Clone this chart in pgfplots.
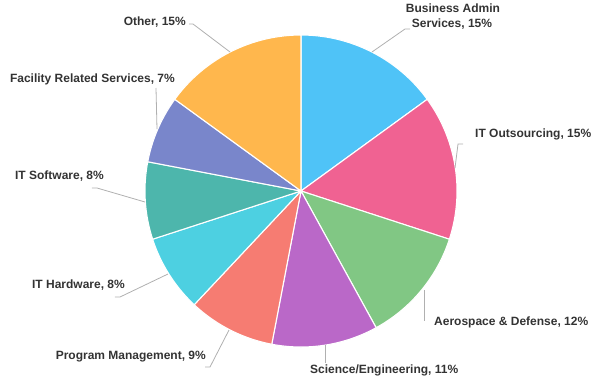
\documentclass[border=0pt]{standalone}
\usepackage{pgfplots}
\pgfplotsset{compat=1.18}
\usepgfplotslibrary{polar}
\usepackage{fontspec}
\setmainfont{Liberation Sans}
\definecolor{cBlue}{HTML}{4FC3F7}
\definecolor{cPink}{HTML}{F06292}
\definecolor{cGreen}{HTML}{81C784}
\definecolor{cPurple}{HTML}{BA68C8}
\definecolor{cSalmon}{HTML}{F67C72}
\definecolor{cCyan}{HTML}{4DD0E1}
\definecolor{cTeal}{HTML}{4DB6AC}
\definecolor{cIndigo}{HTML}{7986CB}
\definecolor{cOrange}{HTML}{FFB74D}
\definecolor{txt}{HTML}{333333}
\definecolor{lead}{HTML}{B0B0B0}
\begin{document}
\begin{tikzpicture}
\begin{polaraxis}[
  hide axis, scale only axis, width=312bp, height=312bp,
  ymin=0, ymax=1, clip=false,
  every axis plot/.append style={draw=white, line width=1.1bp, samples=90, line join=round},
]
% shares (%): 15,15,12,11,9,8,8,7,15 -> clockwise from 12 o'clock, 3.6 deg per %
\addplot[fill=cBlue,   domain=36:90]        {1} -- (axis cs:0,0) -- cycle; % Business Admin Services 15
\addplot[fill=cPink,   domain=-18:36]       {1} -- (axis cs:0,0) -- cycle; % IT Outsourcing 15
\addplot[fill=cGreen,  domain=-61.2:-18]    {1} -- (axis cs:0,0) -- cycle; % Aerospace & Defense 12
\addplot[fill=cPurple, domain=-100.8:-61.2] {1} -- (axis cs:0,0) -- cycle; % Science/Engineering 11
\addplot[fill=cSalmon, domain=-133.2:-100.8]{1} -- (axis cs:0,0) -- cycle; % Program Management 9
\addplot[fill=cCyan,   domain=-162:-133.2]  {1} -- (axis cs:0,0) -- cycle; % IT Hardware 8
\addplot[fill=cTeal,   domain=-190.8:-162]  {1} -- (axis cs:0,0) -- cycle; % IT Software 8
\addplot[fill=cIndigo, domain=-216:-190.8]  {1} -- (axis cs:0,0) -- cycle; % Facility Related Services 7
\addplot[fill=cOrange, domain=-270:-216]    {1} -- (axis cs:0,0) -- cycle; % Other 15
\coordinate (C) at (axis cs:0,0);
\end{polaraxis}
\begin{scope}[shift={(C)}, x=1bp, y=1bp]
\path (-301,-190) rectangle (299,191);
\begin{scope}[draw=lead, line width=0.8bp]
\draw (-71,139) -- (-108,167) -- (-112,167);
\draw (71,139) -- (104,162) -- (109,162);
\draw (154,23) -- (157,47) -- (162,47);
\draw (123,-99) -- (123,-130);
\draw (24,-154) -- (24,-172);
\draw (-72,-139) -- (-91,-176) -- (-96,-176);
\draw (-133,-83) -- (-181,-106) -- (-186,-106);
\draw (-156,-11) -- (-204,3) -- (-209,3);
\draw (-144,62) -- (-145,103);
\end{scope}
\begin{scope}[every node/.style={inner sep=0pt, text=txt, font=\fontsize{12bp}{14bp}\selectfont\bfseries}]
\node[anchor=base east] at (-115,166) {Other, 15\%};
\node[anchor=base] at (152,179) {Business Admin};
\node[anchor=base] at (151,164) {Services, 15\%};
\node[anchor=base west] at (174,54) {IT Outsourcing, 15\%};
\node[anchor=base west] at (133,-134) {Aerospace \& Defense, 12\%};
\node[anchor=base west] at (9,-182) {Science/Engineering, 11\%};
\node[anchor=base east] at (-95,-168) {Program Management, 9\%};
\node[anchor=base east] at (-176,-97) {IT Hardware, 8\%};
\node[anchor=base east] at (-197,12) {IT Software, 8\%};
\node[anchor=base east] at (-126,109) {Facility Related Services, 7\%};
\end{scope}
\end{scope}
\end{tikzpicture}
\end{document}
